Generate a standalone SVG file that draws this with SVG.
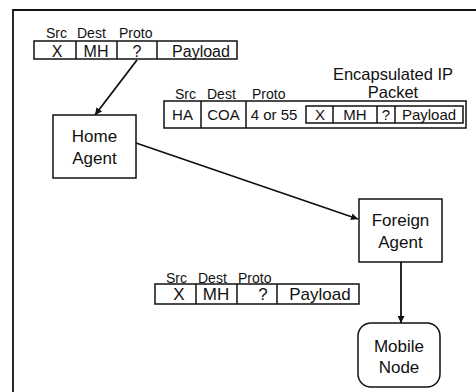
<svg xmlns="http://www.w3.org/2000/svg" width="476" height="392" viewBox="0 0 476 392">
<defs>
<style>
text{font-family:"Liberation Sans",Arial,sans-serif;fill:#111;}
.lbl{font-size:14px;}
.fld{text-anchor:middle;}
.nt{font-size:17px;text-anchor:middle;}
.box{fill:#fff;stroke:#111;stroke-width:1.5;}
.div{stroke:#111;stroke-width:1.5;}
.edge{stroke:#111;stroke-width:1.8;fill:none;}
</style>
<marker id="ah" viewBox="0 0 10 10" refX="10" refY="5" markerWidth="7" markerHeight="7" orient="auto" markerUnits="userSpaceOnUse">
<path d="M0,0 L10,5 L0,10 z" fill="#111"/>
</marker>
</defs>
<rect width="476" height="392" fill="#fff"/>
<path d="M13,392 V10 H476" fill="none" stroke="#111" stroke-width="1.8"/>

<g id="packet-top">
<text class="lbl" x="46" y="38">Src</text>
<text class="lbl" x="77" y="38">Dest</text>
<text class="lbl" x="119" y="38">Proto</text>
<rect class="box" x="34" y="41" width="203" height="18"/>
<line class="div" x1="76" y1="41" x2="76" y2="59"/>
<line class="div" x1="117" y1="41" x2="117" y2="59"/>
<line class="div" x1="157" y1="41" x2="157" y2="59"/>
<text class="fld" x="57" y="57" font-size="16">X</text>
<text class="fld" x="96" y="57" font-size="16">MH</text>
<text class="fld" x="137" y="57" font-size="16">?</text>
<text class="fld" x="201" y="57" font-size="16">Payload</text>
</g>

<g id="home-agent">
<rect class="box" x="53" y="115" width="83" height="63"/>
<text class="nt" x="94.5" y="142">Home</text>
<text class="nt" x="94.5" y="164">Agent</text>
</g>

<g id="encapsulated-packet">
<text x="393" y="80" font-size="16.5" text-anchor="middle">Encapsulated IP</text>
<text x="393" y="98" font-size="16.5" text-anchor="middle">Packet</text>
<text class="lbl" x="175" y="99">Src</text>
<text class="lbl" x="207" y="99">Dest</text>
<text class="lbl" x="252" y="99">Proto</text>
<rect class="box" x="164" y="101" width="302" height="27"/>
<line class="div" x1="201" y1="101" x2="201" y2="128"/>
<line class="div" x1="246" y1="101" x2="246" y2="128"/>
<rect class="box" x="306" y="106" width="157" height="17"/>
<line class="div" x1="333" y1="106" x2="333" y2="123"/>
<line class="div" x1="377" y1="106" x2="377" y2="123"/>
<line class="div" x1="395" y1="106" x2="395" y2="123"/>
<text class="fld" x="182.5" y="120" font-size="15">HA</text>
<text class="fld" x="223.5" y="120" font-size="15">COA</text>
<text class="fld" x="274" y="120" font-size="15">4 or 55</text>
<text class="fld" x="320" y="120" font-size="15">X</text>
<text class="fld" x="355" y="120" font-size="15">MH</text>
<text class="fld" x="386" y="120" font-size="15">?</text>
<text class="fld" x="429" y="120" font-size="15">Payload</text>
</g>

<g id="foreign-agent">
<rect class="box" x="359" y="199" width="83" height="63"/>
<text class="nt" x="400.5" y="226">Foreign</text>
<text class="nt" x="400.5" y="248">Agent</text>
</g>

<g id="packet-bottom">
<text class="lbl" x="166" y="283">Src</text>
<text class="lbl" x="198" y="283">Dest</text>
<text class="lbl" x="238" y="283">Proto</text>
<rect class="box" x="155" y="284" width="204" height="20"/>
<line class="div" x1="196" y1="284" x2="196" y2="304"/>
<line class="div" x1="237" y1="284" x2="237" y2="304"/>
<line class="div" x1="277" y1="284" x2="277" y2="304"/>
<text class="fld" x="179" y="300" font-size="17">X</text>
<text class="fld" x="216" y="300" font-size="17">MH</text>
<text class="fld" x="263" y="300" font-size="17">?</text>
<text class="fld" x="320" y="300" font-size="17">Payload</text>
</g>

<g id="mobile-node">
<rect class="box" x="358" y="323" width="82" height="64" rx="13" ry="13"/>
<text class="nt" x="399" y="352">Mobile</text>
<text class="nt" x="399" y="373">Node</text>
</g>

<g id="connectors">
<line class="edge" x1="137" y1="60" x2="95" y2="115" marker-end="url(#ah)"/>
<line class="edge" x1="136" y1="143" x2="358" y2="219" marker-end="url(#ah)"/>
<line class="edge" x1="401" y1="262" x2="401" y2="323" marker-end="url(#ah)"/>
</g>
</svg>
